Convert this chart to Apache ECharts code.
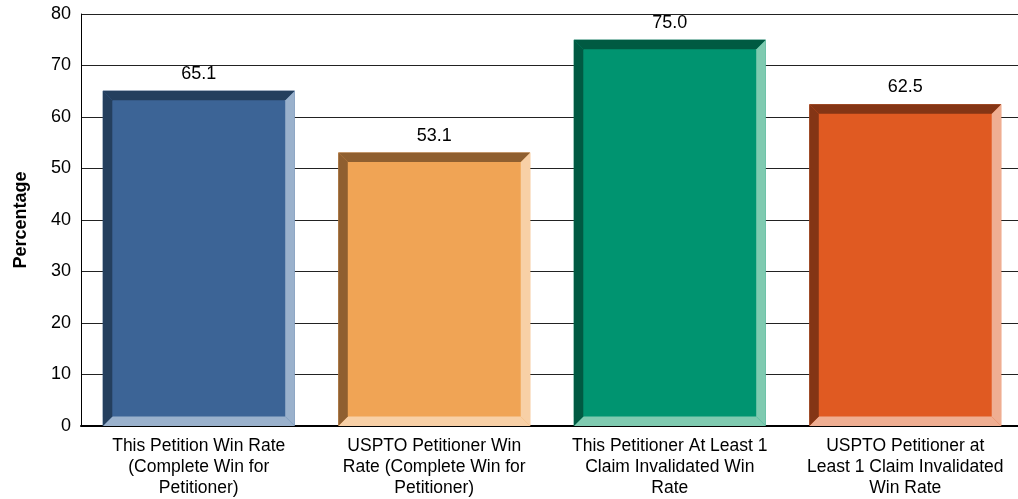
<!DOCTYPE html>
<html>
<head>
<meta charset="utf-8">
<script src="https://cdn.jsdelivr.net/npm/echarts@6/dist/echarts.min.js"></script>
<style>
  html, body { margin: 0; padding: 0; background: #fff; }
  #chart { width: 1018px; height: 499px; }
</style>
</head>
<body>
<div id="chart"></div>
<script>
// categories and values
const categories = [
  "This Petition Win Rate\n(Complete Win for\nPetitioner)",
  "USPTO Petitioner Win\nRate (Complete Win for\nPetitioner)",
  "This Petitioner At Least 1\nClaim Invalidated Win\nRate",
  "USPTO Petitioner at\nLeast 1 Claim Invalidated\nWin Rate"
];
const values = [65.1, 53.1, 75.0, 62.5];
const yTicks = [0, 10, 20, 30, 40, 50, 60, 70, 80];

// face / dark bevel (top, left) / light bevel (right, bottom)
const faceColors = ["#3C6496", "#F0A455", "#009470", "#E05A22"];
const darkColors = ["#243F5E", "#8F5F30", "#005A42", "#843515"];
const lightColors = ["#9AB1CC", "#F8D0A6", "#7FCAB0", "#EFAE92"];

let myCharts = echarts.init(document.getElementById("chart"));

// draws one beveled bar
function renderBevelBar(params, api) {
  const idx = api.value(0);
  const val = api.value(1);
  const top = api.coord([idx, val]);
  const base = api.coord([idx, 0]);
  const band = api.size([1, 0])[0];
  const w = band * 0.815;
  const b = 9.5;
  const x0 = top[0] - w / 2;
  const x1 = top[0] + w / 2;
  const y0 = top[1];
  const y1 = base[1];
  const dark = darkColors[idx];
  const light = lightColors[idx];
  return {
    type: "group",
    children: [
      {
        type: "rect",
        shape: { x: x0, y: y0, width: w, height: y1 - y0 },
        style: { fill: faceColors[idx] }
      },
      {
        type: "polygon",
        shape: { points: [[x1, y0], [x1, y1], [x1 - b, y1 - b], [x1 - b, y0 + b]] },
        style: { fill: light }
      },
      {
        type: "polygon",
        shape: { points: [[x0, y1], [x1, y1], [x1 - b, y1 - b], [x0 + b, y1 - b]] },
        style: { fill: light }
      },
      {
        type: "polygon",
        shape: { points: [[x0, y0], [x0 + b, y0 + b], [x0 + b, y1 - b], [x0, y1]] },
        style: { fill: dark }
      },
      {
        type: "polygon",
        shape: { points: [[x0, y0], [x1, y0], [x1 - b, y0 + b], [x0 + b, y0 + b]] },
        style: { fill: dark }
      },
      {
        type: "text",
        x: top[0],
        y: y0 - 8,
        style: {
          text: val.toFixed(1),
          fill: "#000",
          font: "18px 'Liberation Sans', Arial, sans-serif",
          align: "center",
          verticalAlign: "bottom"
        }
      }
    ]
  };
}

let option = {
  animation: false,
  grid: {
    left: 81,
    right: -5,
    top: 14,
    bottom: 73,
    outerBoundsMode: "none"
  },
  xAxis: {
    type: "category",
    data: categories,
    axisLine: { lineStyle: { color: "#000", width: 2 } },
    axisTick: { show: false },
    axisLabel: {
      interval: 0,
      color: "#000",
      fontFamily: "Liberation Sans, Arial, sans-serif",
      fontSize: 17.5,
      lineHeight: 21,
      margin: 10
    }
  },
  yAxis: {
    type: "value",
    min: yTicks[0],
    max: yTicks[yTicks.length - 1],
    interval: 10,
    name: "Percentage",
    nameLocation: "middle",
    nameRotate: 90,
    nameGap: 51,
    nameTextStyle: {
      color: "#000",
      fontWeight: "bold",
      fontSize: 18,
      fontFamily: "Liberation Sans, Arial, sans-serif"
    },
    axisLine: { show: true, lineStyle: { color: "#000", width: 1 } },
    axisTick: { show: false },
    axisLabel: {
      color: "#000",
      fontSize: 18,
      fontFamily: "Liberation Sans, Arial, sans-serif",
      margin: 10
    },
    splitLine: { lineStyle: { color: "#222", width: 1 } }
  },
  series: [
    {
      type: "custom",
      renderItem: renderBevelBar,
      encode: { x: 0, y: 1 },
      data: values.map((v, i) => [i, v])
    }
  ]
};

myCharts.setOption(option);
</script>
</body>
</html>
